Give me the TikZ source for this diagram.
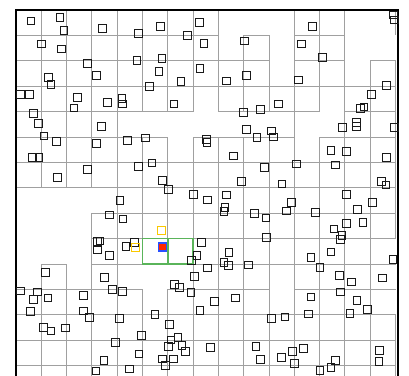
\documentclass[tikz,border=0pt]{standalone}
\usepackage{tikz}
\definecolor{cellgray}{RGB}{160,160,160}
\definecolor{qblue}{RGB}{40,80,255}
\definecolor{qred}{RGB}{255,40,0}
\definecolor{hitgreen}{RGB}{90,180,90}
\definecolor{candyellow}{RGB}{250,200,0}
\tikzset{
  gridline/.style={draw=cellgray,line width=0.75pt},
  pt/.style={rectangle,draw=black!90,line width=0.75pt,minimum size=5.6pt,inner sep=0pt},
}
\begin{document}
\begin{tikzpicture}[x=0.25pt,y=-0.25pt]
    \useasboundingbox (0,0) rectangle (1227,1125);
    \clip (0,0) rectangle (1227,1125);
    % Cell boundaries (grid units)
    \begin{scope}[shift={(48,30)},x=18.975pt,y=-19.05pt]
      \foreach \i/\a/\b in {1/0/7,1/10/15,2/0/7,2/10/15,3/0/7,3/8/15,4/0/15,
          5/0/4,5/5/10,5/11/15,6/0/4,6/5/10,6/11/15,7/0/4,7/5/15,8/0/4,8/5/15,
          9/1/4,9/5/15,10/1/4,10/5/15,11/0/15,12/0/4,12/5/15,13/0/15,14/2/15,
          15/0/1,15/2/9,15/12/15}{
        \draw[gridline] (\i,\a) -- (\i,\b);
      }
      \foreach \j/\a/\b in {1/0/8,1/9/10,1/11/13,2/0/10,2/11/13,2/14/15,3/0/15,
          4/0/7,4/8/12,4/13/15,5/0/6,5/7/11,5/12/15,6/0/15,7/0/15,8/3/15,9/3/15,
          10/1/2,10/3/15,11/0/5,11/6/10,11/11/15,12/0/15,13/0/15,14/0/15}{
        \draw[gridline] (\a,\j) -- (\b,\j);
      }
      % Searched cells
      \draw[hitgreen,line width=1.3pt] (5,9) rectangle (7,10);
      \draw[hitgreen,line width=1.3pt] (6,9) -- (6,10);
    \end{scope}
    % Outer frame
    \draw[black,line width=1.4pt] (48,1200) -- (48,30) -- (1195,30) -- (1195,1200);
    % Data points
    \foreach \x/\y [count=\k] in {93/63,180/52,192/91,307/85,415/100,481/79,563/107,
        598/68,612/130,733/123,937/79,905/132,968/172,1180/45,1183/60,125/132,
        185/147,263/190,289/227,411/181,486/176,477/215,448/259,543/245,600/206,
        679/243,739/227,896/240,145/232,153/253,62/283,88/283,233/292,222/324,
        323/308,366/296,368/312,522/312,730/338,782/328,835/312,1160/257,1114/283,
        1082/325,1092/321,100/340,116/370,304/379,132/408,170/424,290/430,383/421,
        437/414,619/418,621/428,740/388,771/413,815/393,821/411,1027/383,1069/368,
        1069/380,1183/383,97/473,117/473,263/508,172/533,415/500,456/489,487/541,
        506/568,700/468,793/503,889/492,993/452,1040/455,1007/495,1160/472,
        724/544,846/552,1145/545,1158/555,581/583,623/600,679/585,1040/583,
        360/602,874/607,675/623,672/635,1117/607,1073/629,946/637,859/633,763/640,
        798/654,328/645,369/657,1039/671,1089/668,1002/687,1026/707,1022/718,
        800/712,293/725,300/723,292/750,378/740,403/727,605/728,591/767,575/781,
        687/758,672/787,685/797,745/795,623/804,933/772,993/756,960/802,1179/779,
        328/767,137/818,313/832,583/829,1018/827,1054/846,1147/834,524/854,
        538/862,573/877,338/868,367/875,251/887,62/873,112/876,100/898,144/894,
        91/935,250/933,268/952,359/956,465/944,508/974,600/931,644/905,706/894,
        933/891,1021/876,1071/901,1102/928,1050/940,925/942,855/951,815/956,
        130/982,153/993,197/984,346/1027,424/1006,513/1020,534/1012,505/1039,
        546/1036,557/1054,631/1043,768/1039,878/1054,910/1045,1138/1052,
        1137/1084,417/1062,312/1082,488/1077,521/1077,497/1096,389/1107,
        288/1113,782/1078,844/1073,883/1090,1007/1081,993/1102,960/1112}{
      \node[pt] (p\k) at (\x,\y) {};
    }
    % Candidates and query
    \node[pt,draw=candyellow,line width=1.1pt,minimum size=6pt] (cand1) at (484,692) {};
    \node[pt,draw=candyellow,line width=1.1pt,minimum size=6pt] (cand2) at (406,742) {};
    \node[pt,draw=qblue,fill=qred,line width=1.1pt,minimum size=6pt] (query) at (487,741) {};
\end{tikzpicture}
\end{document}
